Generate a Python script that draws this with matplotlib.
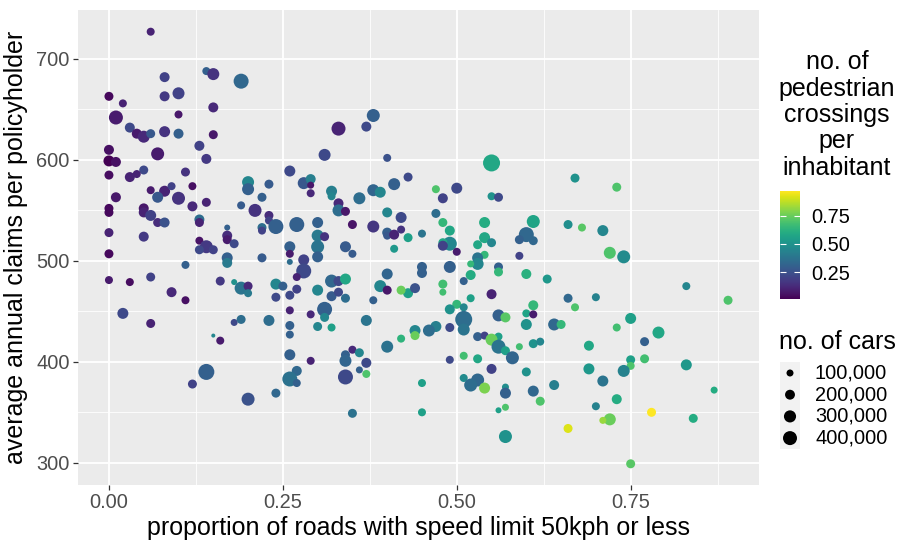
import numpy as np
import matplotlib
matplotlib.use("Agg")
import matplotlib.pyplot as plt
from matplotlib.patches import Rectangle
from matplotlib.ticker import MultipleLocator

plt.rcParams['font.family'] = ['Liberation Sans', 'DejaVu Sans']

# %% data
prop_50kph = [
    .06, .14, .15, .19, .08, .10, .08, .00, .02, .15, .01, .10, .03, .04, .05,
    .06, .08, .10, .15, .13, .00, .07, .14, .00, .01, .05, .11, .00, .03, .04,
    .06, .08, .09, .07, .10, .12, .01, .14, .12, .19, .20, .20, .00, .00, .05,
    .05, .06, .07, .08, .13, .13, .17, .17, .17, .18, .00, .05, .13, .14, .13,
    .15, .17, .17, .00, .11, .00, .03, .06, .09, .11, .16, .18, .19, .20, .20,
    .02, .06, .18, .19, .38, .37, .33, .31, .40, .55, .26, .23, .28, .29, .29,
    .29, .32, .32, .33, .33, .34, .36, .38, .39, .41, .43, .22, .21, .23, .23,
    .22, .22, .24, .27, .30, .30, .31, .30, .30, .26, .26, .26, .22, .28, .28,
    .27, .34, .35, .38, .40, .40, .41, .42, .40, .42, .43, .41, .45, .35, .45,
    .45, .40, .24, .25, .32, .33, .34, .30, .32, .33, .34, .27, .26, .24, .39,
    .40, .43, .42, .44, .38, .31, .29, .26, .31, .23, .26, .30, .32, .37, .44,
    .44, .67, .47, .50, .48, .55, .56, .47, .48, .49, .54, .61, .66, .68, .54,
    .55, .53, .49, .48, .48, .50, .60, .59, .61, .59, .54, .53, .53, .52, .49,
    .56, .56, .52, .51, .60, .63, .48, .48, .52, .55, .50, .49, .51, .51, .56,
    .57, .60, .61, .61, .66, .67, .70, .47, .49, .46, .60, .64, .65, .73, .71,
    .72, .74, .83, .89, .75, .15, .16, .14, .12, .20, .26, .26, .29, .27, .26,
    .27, .24, .35, .34, .36, .34, .37, .36, .37, .34, .35, .40, .42, .45, .45,
    .51, .53, .54, .56, .55, .56, .57, .58, .59, .61, .62, .69, .51, .53, .49,
    .55, .60, .69, .51, .53, .52, .54, .57, .57, .61, .64, .62, .57, .56, .66,
    .57, .73, .79, .77, .75, .75, .77, .74, .71, .83, .87, .73, .70, .72, .71,
    .78, .84, .75,
]

claims = [
    727, 688, 685, 678, 682, 666, 663, 663, 656, 652, 642, 645, 632, 626, 623,
    626, 628, 626, 625, 614, 610, 606, 601, 599, 598, 590, 588, 585, 583, 586,
    570, 569, 574, 563, 562, 574, 563, 558, 554, 555, 578, 571, 552, 548, 552,
    548, 545, 538, 538, 541, 538, 533, 525, 521, 517, 528, 524, 520, 514, 511,
    511, 503, 498, 507, 496, 481, 479, 484, 469, 461, 480, 479, 473, 475, 468,
    448, 438, 439, 442, 644, 633, 631, 605, 602, 597, 589, 576, 577, 581, 575,
    567, 569, 564, 557, 550, 549, 562, 570, 568, 576, 583, 563, 550, 545, 540,
    533, 530, 534, 536, 538, 525, 524, 514, 504, 514, 507, 499, 503, 501, 490,
    484, 514, 507, 534, 528, 525, 526, 531, 548, 543, 523, 512, 527, 536, 494,
    488, 487, 477, 475, 480, 480, 482, 471, 465, 469, 463, 472, 466, 464, 475,
    471, 468, 471, 473, 461, 452, 447, 451, 444, 441, 436, 435, 434, 441, 431,
    426, 582, 571, 572, 562, 564, 563, 547, 538, 530, 538, 539, 536, 533, 523,
    518, 516, 517, 518, 515, 509, 526, 521, 520, 505, 506, 503, 497, 497, 494,
    494, 489, 486, 480, 487, 482, 477, 469, 463, 467, 457, 452, 454, 442, 446,
    444, 448, 456, 447, 463, 454, 464, 435, 434, 431, 437, 437, 437, 573, 530,
    508, 504, 475, 461, 443, 426, 421, 390, 378, 363, 427, 407, 401, 391, 383,
    379, 369, 412, 407, 409, 401, 399, 392, 388, 385, 349, 415, 423, 379, 350,
    432, 425, 426, 425, 422, 415, 411, 404, 415, 418, 420, 416, 406, 403, 402,
    393, 390, 393, 384, 382, 377, 374, 375, 369, 371, 377, 361, 355, 352, 334,
    326, 434, 429, 420, 402, 396, 403, 391, 381, 397, 372, 363, 356, 343, 342,
    350, 344, 299,
]

crossings = [
    .10, .30, .15, .33, .20, .20, .17, .03, .10, .12, .08, .07, .22, .08, .12,
    .27, .15, .30, .07, .20, .05, .08, .17, .01, .05, .22, .15, .04, .10, .10,
    .08, .10, .20, .27, .15, .05, .07, .10, .12, .28, .45, .30, .03, .03, .07,
    .10, .20, .13, .25, .35, .10, .30, .13, .08, .22, .10, .17, .06, .17, .22,
    .20, .30, .40, .03, .30, .08, .04, .20, .12, .05, .17, .50, .38, .12, .40,
    .22, .10, .22, .35, .30, .22, .10, .22, .25, .58, .22, .28, .27, .42, .07,
    .12, .42, .45, .12, .35, .07, .35, .32, .45, .30, .22, .30, .15, .13, .20,
    .35, .20, .30, .30, .30, .40, .15, .38, .30, .30, .08, .35, .28, .20, .22,
    .10, .28, .28, .16, .30, .27, .10, .15, .45, .22, .55, .52, .38, .06, .30,
    .30, .32, .45, .30, .33, .22, .58, .45, .28, .22, .35, .20, .22, .22, .45,
    .07, .55, .75, .25, .30, .30, .12, .10, .45, .35, .30, .45, .55, .38, .45,
    .75, .50, .70, .22, .20, .50, .22, .35, .65, .58, .60, .57, .48, .72, .58,
    .45, .58, .45, .58, .20, .08, .33, .30, .33, .20, .65, .38, .45, .65, .30,
    .30, .65, .60, .30, .62, .52, .68, .68, .55, .10, .65, .50, .45, .35, .30,
    .72, .57, .65, .08, .33, .70, .43, .42, .22, .35, .50, .33, .65, .70, .45,
    .70, .47, .45, .70, .55, .45, .08, .30, .20, .25, .30, .30, .10, .33, .37,
    .30, .33, .12, .30, .45, .32, .22, .30, .70, .22, .37, .37, .63, .55, .55,
    .38, .30, .20, .55, .75, .38, .55, .32, .68, .50, .45, .58, .68, .58, .22,
    .20, .50, .52, .47, .33, .35, .78, .48, .30, .33, .42, .70, .70, .55, .92,
    .50, .68, .58, .30, .55, .70, .68, .43, .38, .52, .60, .60, .43, .75, .82,
    .97, .60, .72,
]

# number of cars, thousands
cars = [
    131, 131, 294, 459, 204, 294, 204, 165, 131, 204, 400, 131, 204, 204, 294,
    165, 247, 204, 165, 204, 204, 345, 204, 247, 204, 165, 165, 165, 204, 131,
    131, 247, 131, 247, 345, 131, 204, 165, 204, 131, 294, 294, 165, 165, 204,
    204, 247, 165, 204, 204, 165, 73, 204, 165, 165, 165, 204, 131, 345, 165,
    165, 247, 204, 165, 131, 131, 131, 165, 204, 131, 165, 73, 345, 165, 131,
    247, 165, 100, 165, 345, 204, 400, 294, 131, 590, 247, 165, 294, 204, 100,
    131, 247, 131, 204, 294, 165, 294, 294, 247, 294, 165, 165, 345, 165, 131,
    165, 131, 459, 459, 247, 294, 165, 345, 247, 247, 131, 73, 165, 247, 459,
    131, 247, 131, 294, 204, 131, 204, 131, 204, 247, 165, 131, 131, 165, 204,
    204, 247, 247, 165, 345, 204, 247, 247, 204, 165, 165, 165, 165, 165, 294,
    165, 204, 165, 204, 131, 459, 131, 131, 165, 247, 165, 165, 131, 247, 247,
    165, 165, 131, 247, 204, 131, 165, 165, 165, 204, 247, 345, 165, 131, 247,
    165, 165, 400, 165, 204, 131, 459, 165, 165, 131, 131, 247, 294, 100, 294,
    165, 165, 204, 131, 204, 165, 165, 100, 131, 204, 165, 204, 131, 590, 294,
    204, 131, 204, 131, 165, 131, 131, 247, 165, 294, 247, 294, 165, 165, 247,
    294, 345, 131, 165, 247, 33, 131, 522, 165, 345, 131, 247, 131, 204, 459,
    131, 165, 131, 165, 165, 294, 204, 100, 131, 459, 165, 294, 131, 131, 131,
    294, 165, 131, 131, 294, 400, 165, 345, 100, 165, 131, 204, 131, 165, 131,
    204, 165, 247, 131, 345, 345, 247, 100, 247, 247, 204, 165, 100, 73, 165,
    345, 131, 294, 165, 165, 131, 165, 294, 247, 247, 100, 204, 131, 294, 100,
    165, 165, 165,
]

legend_cars = [100, 200, 300, 400]
legend_cars_labels = ['100,000', '200,000', '300,000', '400,000']

x = np.array(prop_50kph)
y = np.array(claims)
c = np.array(crossings)
n = np.array(cars)


def size_of(k):
    # marker area in pt^2, area proportional to number of cars
    return 0.254 * np.asarray(k, dtype=float)


# %% plotting
fig = plt.figure(figsize=(9, 5.44), dpi=100)
W, H = 900, 544
ax = fig.add_axes([78 / W, 1 - 485 / H, (759 - 78) / W, (485 - 10) / H])
ax.set_facecolor('#EBEBEB')
for s in ax.spines.values():
    s.set_visible(False)

sc = ax.scatter(x, y, s=size_of(n), c=c, cmap='viridis',
                vmin=c.min(), vmax=c.max(), edgecolors='none', zorder=3)

ax.set_xlim(-0.0445, 0.9345)
ax.set_ylim(278, 748.5)
ax.xaxis.set_major_locator(MultipleLocator(0.25))
ax.xaxis.set_minor_locator(MultipleLocator(0.125))
ax.yaxis.set_major_locator(MultipleLocator(100))
ax.yaxis.set_minor_locator(MultipleLocator(50))
ax.set_xticks([0, 0.25, 0.5, 0.75])
ax.set_xticklabels(['0.00', '0.25', '0.50', '0.75'])
ax.grid(which='major', color='white', linewidth=1.3, zorder=0)
ax.grid(which='minor', color='white', linewidth=0.6, zorder=0)
ax.set_axisbelow(True)
ax.tick_params(which='major', length=3.5, width=0.9, color='#333333',
               labelsize=14.4, labelcolor='#4D4D4D', pad=2.5)
ax.tick_params(which='minor', length=0)

ax.set_xlabel('proportion of roads with speed limit 50kph or less', fontsize=18, labelpad=3)
ax.set_ylabel('average annual claims per policyholder', fontsize=18, labelpad=6)

# colour legend
fig.text(837 / W, 1 - 115 / H, 'no. of\npedestrian\ncrossings\nper\ninhabitant',
         ha='center', va='center', fontsize=18, linespacing=1.12)
cax = fig.add_axes([780 / W, 1 - 299 / H, 20 / W, 108 / H])
cb = fig.colorbar(sc, cax=cax)
cb.outline.set_visible(False)
cb.set_ticks([0.25, 0.5, 0.75])
cb.set_ticklabels(['0.25', '0.50', '0.75'])
cax.tick_params(direction='in', color='white', length=4, width=0.8,
                left=True, right=True, labelsize=14.4, pad=8)

# size legend
fig.text(837 / W, 1 - 342 / H, 'no. of cars', ha='center', va='center', fontsize=18)
lax = fig.add_axes([0, 0, 1, 1], facecolor='none')
lax.set_xlim(0, W)
lax.set_ylim(H, 0)
lax.axis('off')
key_h = 21.7
for i, (k, lab) in enumerate(zip(legend_cars, legend_cars_labels)):
    yc = 373 + i * key_h
    lax.add_patch(Rectangle((780, yc - key_h / 2), 20, key_h, facecolor='#F2F2F2',
                            edgecolor='none'))
    lax.scatter([790], [yc], s=size_of(k), color='black', edgecolors='none')
    lax.text(815, yc, lab, ha='left', va='center', fontsize=14.4)

fig.savefig('out.png', dpi=100)
